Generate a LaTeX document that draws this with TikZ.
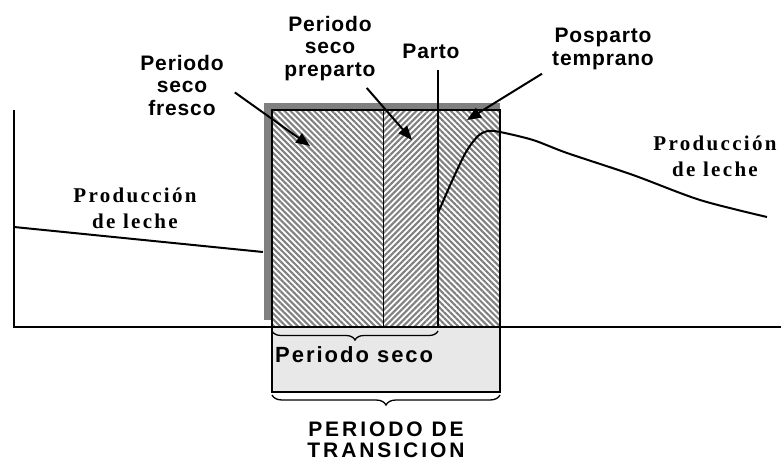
\documentclass[tikz,border=0pt]{standalone}
\usepackage{fontspec}
\setmainfont{Liberation Sans}
\newfontfamily\lechefont[LetterSpace=11]{Liberation Serif}
\usetikzlibrary{arrows.meta,patterns.meta,decorations.pathreplacing}

\begin{document}
\begin{tikzpicture}[x=1pt,y=-1pt,
    lbl/.style={inner sep=0pt,align=center,font=\fontsize{21}{22.5}\selectfont\bfseries\addfontfeature{LetterSpace=4}},
    leche/.style={inner sep=0pt,align=center,font=\fontsize{21}{26}\selectfont\lechefont\bfseries},
    flecha/.style={line width=2pt,-{Triangle[length=14pt,width=11pt]}},
    rayas/.style={pattern={Lines[angle=-45,distance=4.2pt,line width=2.1pt]},pattern color=black!50},
    llave/.style={line width=1.3pt,decorate,decoration={brace,mirror,amplitude=9pt}}]
    \useasboundingbox (0,0) rectangle (781,462);
    % sombra y zonas rayadas
    \fill[black!50] (264,103) rectangle (500,320);
    \fill[white] (272,110) rectangle (500,327);
    \fill[rayas] (272,110) rectangle (383,327);
    \fill[rayas,pattern={Lines[angle=45,distance=4.2pt,line width=2.1pt]}] (383,110) rectangle (438,327);
    \fill[rayas] (438,110) rectangle (500,327);
    \draw[line width=1.2pt] (272,110) rectangle (500,327);
    \draw[line width=1pt] (383,110)--(383,327);
    \draw[line width=1.2pt,fill=black!9] (272,327) rectangle (500,392);
    % ejes
    \draw[line width=2.6pt] (14,110)--(14,327)--(781,327);
    % produccion de leche
    \draw[line width=2pt] (14,227)--(263,252);
    \draw[line width=2pt] plot[smooth,tension=0.5] coordinates {(438,213) (452,181) (466,152) (478,136) (488,131) (500,132) (533,140) (567,153) (633,175) (700,200) (767,217)};
    \coordinate (pa) at (438,70);
    \coordinate (pb) at (438,327);
    \draw[line width=2.8pt] (pa)--(pb);
    % textos
    \node[lbl,anchor=north] (aa) at (182,55) {Periodo\\seco\\fresco};
    \node[lbl,anchor=north] (ab) at (330,16) {Periodo\\seco\\preparto};
    \node[lbl,anchor=north] (ac) at (431,44) {Parto};
    \node[lbl,anchor=north] (ad) at (603,28) {Posparto\\temprano};
    \node[leche,anchor=north] (ba) at (135,188) {Producción\\de leche};
    \node[leche,anchor=north] (bb) at (715,136) {Producción\\de leche};
    \node[inner sep=0pt,anchor=base west,font=\fontsize{22}{24}\selectfont\bfseries\addfontfeature{LetterSpace=9}] (ca) at (275,362) {Periodo seco};
    \node[inner sep=0pt,align=center,anchor=north,font=\fontsize{21}{21}\selectfont\bfseries\addfontfeature{LetterSpace=14}] (cb) at (386,422) {PERIODO DE\\TRANSICION};
    % flechas
    \coordinate (ta) at (310,146);
    \coordinate (tb) at (412,140);
    \coordinate (td) at (467,120);
    \draw[flecha] ([shift={(11,7)}]aa.east)--(ta);
    \draw[flecha] ([shift={(-9,7)}]ab.south east)--(tb);
    \draw[flecha] ([shift={(-10,4)}]ad.south west)--(td);
    % llaves
    \draw[llave] (272,331)--(438,331);
    \draw[llave,decoration={amplitude=10pt}] (272,395)--(500,395);
\end{tikzpicture}
\end{document}
